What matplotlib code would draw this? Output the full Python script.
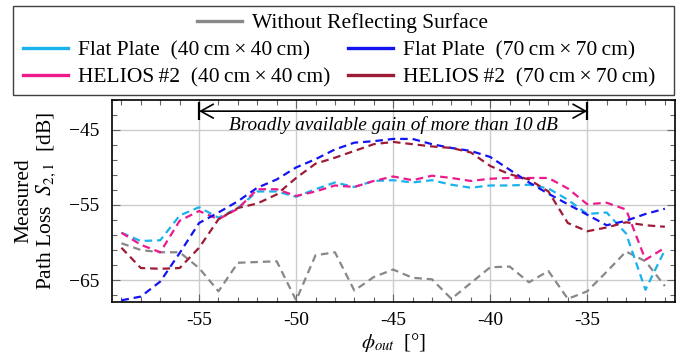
import matplotlib
matplotlib.use('Agg')
import matplotlib.pyplot as plt
from matplotlib.lines import Line2D
from matplotlib.patches import Rectangle

# measured path loss S21 [dB] vs. phi_out [deg]
angles = [-59, -58, -57, -56, -55, -54, -53, -52, -51, -50, -49, -48, -47, -46, -45,
          -44, -43, -42, -41, -40, -39, -38, -37, -36, -35, -34, -33, -32, -31]
without = [-60.1, -61.0, -61.3, -61.3, -63.4, -66.5, -62.7, -62.6, -62.5, -67.7,
           -61.7, -61.3, -66.4, -64.6, -63.6, -64.7, -64.9, -67.5, -65.4, -63.3,
           -63.2, -65.3, -63.8, -67.5, -66.5, -63.9, -61.2, -62.5, -65.8]
flat40 = [-58.7, -59.8, -59.7, -56.4, -55.3, -56.7, -55.4, -53.2, -53.2, -53.9,
          -52.9, -52.0, -52.6, -51.8, -51.7, -52.0, -51.7, -52.3, -52.7, -52.4,
          -52.4, -52.3, -52.8, -54.3, -56.2, -56.0, -58.8, -66.3, -61.0]
flat70 = [-67.7, -67.2, -65.2, -61.4, -57.4, -56.0, -54.5, -52.7, -51.6, -50.0,
          -48.9, -47.6, -46.7, -46.5, -46.2, -46.2, -46.9, -47.4, -47.8, -48.6,
          -50.3, -52.0, -53.5, -54.9, -56.3, -57.7, -57.1, -56.2, -55.5]
helios40 = [-58.7, -60.3, -61.3, -57.1, -55.8, -56.9, -55.5, -52.9, -52.9, -53.8,
            -53.2, -52.4, -52.6, -51.8, -51.2, -51.7, -51.1, -51.4, -51.8, -51.5,
            -51.4, -51.4, -51.4, -52.8, -54.9, -54.7, -55.6, -62.3, -60.7]
helios70 = [-60.7, -63.4, -63.5, -63.4, -60.7, -56.9, -55.4, -54.8, -53.6, -51.4,
            -49.5, -48.7, -47.8, -46.9, -46.6, -46.9, -47.2, -47.4, -48.0, -49.8,
            -50.9, -51.6, -53.2, -57.4, -58.5, -58.0, -57.3, -57.7, -57.9]

xticks = [-55, -50, -45, -40, -35]
xtick_labels = ['-55', '-50', '-45', '-40', '-35']
yticks = [-65, -55, -45]
gain_span = [-55, -35]

c_gray = '#888888'
c_cyan = '#19B2EC'
c_blue = '#1414F0'
c_pink = '#EC1A8C'
c_red = '#9E1B36'

plt.rcParams['font.family'] = ['Liberation Serif', 'DejaVu Serif']
plt.rcParams['mathtext.fontset'] = 'stix'
plt.rcParams['font.size'] = 14

fig = plt.figure(figsize=(6.94, 3.53), dpi=100)
ax = fig.add_axes([0.161, 0.145, 0.811, 0.572])

dash = (3.4, 2.2)
ax.plot(angles, without, color=c_gray, lw=1.6, dashes=dash)
ax.plot(angles, flat40, color=c_cyan, lw=1.6, dashes=dash)
ax.plot(angles, helios40, color=c_pink, lw=1.6, dashes=dash)
ax.plot(angles, flat70, color=c_blue, lw=1.6, dashes=dash)
ax.plot(angles, helios70, color=c_red, lw=1.6, dashes=dash)

ax.set_xlim(-59.5, -30.5)
ax.set_ylim(-67.9, -41.0)
ax.set_xticks(xticks)
ax.set_xticklabels(xtick_labels)
ax.set_xticks(angles, minor=True)
ax.set_yticks(yticks)
ax.set_yticks([-67, -63, -61, -59, -57, -53, -51, -49, -47, -43, -41], minor=True)
ax.grid(True, which='major', color='#cccccc', lw=1.0)
ax.set_axisbelow(True)
ax.tick_params(which='both', direction='in', top=True, right=True, color='0.4', width=0.8)
ax.tick_params(which='major', length=5.5, pad=9)
ax.tick_params(axis='x', which='major', pad=7.5)
ax.tick_params(which='minor', length=3.5)
for s in ax.spines.values():
    s.set_linewidth(1.2)

ax.set_xlabel('$\\phi_{out}$\u2009 [°]', va='center', fontsize=15)
ax.xaxis.set_label_coords(0.5, -0.2)
ax.set_ylabel('Measured\nPath Loss  $S_{2,1}$  [dB]', va='center', linespacing=1.1,
              fontsize=15.5)
ax.yaxis.set_label_coords(-0.1345, 0.5)

# gain annotation
ax.annotate('', xy=(gain_span[1], -42.5), xytext=(gain_span[0], -42.5),
            arrowprops=dict(arrowstyle='<->, head_length=0.45, head_width=0.25',
                            mutation_scale=20, color='black', lw=1.2, shrinkA=0, shrinkB=0))
ax.vlines(gain_span, -43.7, -41.3, color='black', lw=1.6)
ax.text(-45, -45.05, 'Broadly available gain of more than 10\u2009dB', style='italic',
        ha='center', va='baseline', fontsize=13.9)

# legend
fig.patches.append(Rectangle((0.0183, 0.731), 0.953, 0.253, transform=fig.transFigure,
                             fill=False, edgecolor='0.25', lw=1.0))
h0 = [Line2D([], [], color=c_gray, lw=2.4)]
leg1 = fig.legend(h0, ['Without Reflecting Surface'], loc='center',
                  bbox_to_anchor=(0.494, 0.934), frameon=False, fontsize=15.5,
                  handlelength=2.1, handletextpad=0.47, borderpad=0)
hs = [Line2D([], [], color=c, lw=2.4) for c in (c_cyan, c_pink, c_blue, c_red)]
labels = ['Flat Plate  (40\u2009cm\u2009×\u200940\u2009cm)', 'HELIOS\u2009#2  (40\u2009cm\u2009×\u200940\u2009cm)',
          'Flat Plate  (70\u2009cm\u2009×\u200970\u2009cm)', 'HELIOS\u2009#2  (70\u2009cm\u2009×\u200970\u2009cm)']
leg2 = fig.legend(hs, labels, loc='center', ncol=2, bbox_to_anchor=(0.4885, 0.8187),
                  frameon=False, fontsize=15.5, handlelength=2.1, handletextpad=0.47,
                  columnspacing=0.8, labelspacing=0.3, borderpad=0)

fig.savefig('out.png', dpi=100)
